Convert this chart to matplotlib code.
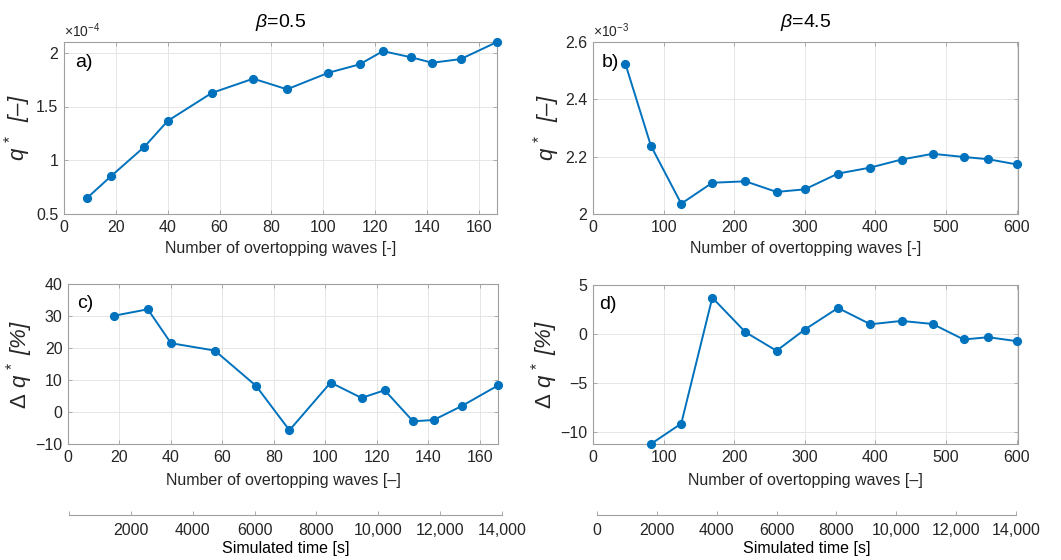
import matplotlib
matplotlib.use("Agg")
import matplotlib.pyplot as plt
from matplotlib.ticker import FuncFormatter

plt.rcParams['font.family'] = ['Liberation Sans', 'DejaVu Sans']
plt.rcParams['mathtext.fontset'] = 'custom'
plt.rcParams['mathtext.it'] = 'Liberation Sans:italic'
plt.rcParams['mathtext.rm'] = 'Liberation Sans'

# ---- data ----
waves_a = [9, 18, 31, 40, 57, 73, 86, 102, 114, 123, 134, 142, 153, 167]
q_a = [0.651, 0.849, 1.125, 1.366, 1.626, 1.759, 1.660, 1.814, 1.892, 2.015, 1.957, 1.907, 1.941, 2.10]  # x1e-4

waves_b = [46, 82, 125, 169, 216, 260, 300, 347, 393, 437, 481, 525, 560, 600]
q_b = [2.523, 2.238, 2.036, 2.109, 2.114, 2.077, 2.086, 2.141, 2.162, 2.190, 2.210, 2.199, 2.191, 2.173]  # x1e-3

waves_c = [18, 31, 40, 57, 73, 86, 102, 114, 123, 134, 142, 153, 167]
dq_c = [30.1, 32.1, 21.5, 19.2, 8.2, -5.7, 9.2, 4.4, 6.8, -2.9, -2.5, 1.9, 8.3]

waves_d = [82, 125, 169, 216, 260, 300, 347, 393, 437, 481, 525, 560, 600]
dq_d = [-11.2, -9.12, 3.71, 0.19, -1.70, 0.46, 2.66, 1.00, 1.34, 1.03, -0.55, -0.32, -0.72]

time_ticks_c = [0, 2000, 4000, 6000, 8000, 10000, 12000, 14000]
time_labels_c = ['', '2000', '4000', '6000', '8000', '10,000', '12,000', '14,000']
time_ticks_d = [0, 2000, 4000, 6000, 8000, 10000, 12000, 14000]
time_labels_d = ['0', '2000', '4000', '6000', '8000', '10,000', '12,000', '14,000']

BLUE = '#0072BD'
SPINE = '#a0a0a0'
TXT = '#262626'
W, H = 1061, 560

fig = plt.figure(figsize=(W / 100, H / 100), dpi=100)


def box(l, t, r, b):
    return [l / W, 1 - b / H, (r - l) / W, (b - t) / H]


def style(ax):
    for s in ax.spines.values():
        s.set_color(SPINE)
        s.set_linewidth(0.8)
    ax.tick_params(direction='in', length=3, width=0.6, color=SPINE,
                   labelsize=11.5, labelcolor=TXT, top=True, right=True, pad=4)
    ax.grid(True, color='#e6e6e6', linewidth=0.7)
    ax.set_axisbelow(True)


def plot(ax, x, y):
    ax.plot(x, y, '-o', color=BLUE, lw=1.4, ms=5.6, clip_on=False, zorder=3)


ax_a = fig.add_axes(box(64, 42, 497, 214))
ax_b = fig.add_axes(box(593, 42, 1018, 214))
ax_c = fig.add_axes(box(68, 284, 498, 444))
ax_d = fig.add_axes(box(593, 285, 1018, 444))

for ax in (ax_a, ax_b, ax_c, ax_d):
    style(ax)

QLAB = r'$q^{\,*}$  [–]'
DLAB = r'$\Delta\ q^{\,*}$ [%]'

plot(ax_a, waves_a, q_a)
ax_a.set_xlim(0, 167)
ax_a.set_ylim(0.5, 2.1)
ax_a.set_xticks(range(0, 161, 20))
ax_a.set_yticks([0.5, 1, 1.5, 2])
ax_a.yaxis.set_major_formatter(FuncFormatter(lambda v, p: f'{v:g}'))
ax_a.set_xlabel('Number of overtopping waves [-]', fontsize=11.5, color=TXT, labelpad=5)
ax_a.set_ylabel(QLAB, fontsize=16, color=TXT, style='italic', labelpad=2)
ax_a.set_title(r'$\beta$=0.5', fontsize=14, color='black', pad=11)
ax_a.text(0.0, 1.01, r'$\times10^{-4}$', transform=ax_a.transAxes, fontsize=10,
          color=TXT, ha='left', va='bottom')
ax_a.text(0.025, 0.93, 'a)', transform=ax_a.transAxes, fontsize=14, va='top')

plot(ax_b, waves_b, q_b)
ax_b.set_xlim(0, 602)
ax_b.set_ylim(2.0, 2.6)
ax_b.set_xticks(range(0, 601, 100))
ax_b.set_yticks([2, 2.2, 2.4, 2.6])
ax_b.yaxis.set_major_formatter(FuncFormatter(lambda v, p: f'{v:g}'))
ax_b.set_xlabel('Number of overtopping waves [-]', fontsize=11.5, color=TXT, labelpad=5)
ax_b.set_ylabel(QLAB, fontsize=16, color=TXT, style='italic', labelpad=2)
ax_b.set_title(r'$\beta$=4.5', fontsize=14, color='black', pad=11)
ax_b.text(0.0, 1.01, r'$\times10^{-3}$', transform=ax_b.transAxes, fontsize=10,
          color=TXT, ha='left', va='bottom')
ax_b.text(0.02, 0.93, 'b)', transform=ax_b.transAxes, fontsize=14, va='top')

plot(ax_c, waves_c, dq_c)
ax_c.set_xlim(0, 167)
ax_c.set_ylim(-10, 40)
ax_c.set_xticks(range(0, 161, 20))
ax_c.set_yticks(range(-10, 41, 10))
ax_c.set_xlabel('Number of overtopping waves [–]', fontsize=11.5, color=TXT, labelpad=6)
ax_c.set_ylabel(DLAB, fontsize=16, color=TXT, style='italic', labelpad=0)
ax_c.text(0.022, 0.93, 'c)', transform=ax_c.transAxes, fontsize=14, va='top')

plot(ax_d, waves_d, dq_d)
ax_d.set_xlim(0, 602)
ax_d.set_ylim(-11.2, 5)
ax_d.set_xticks(range(0, 601, 100))
ax_d.set_yticks([-10, -5, 0, 5])
ax_d.set_xlabel('Number of overtopping waves [–]', fontsize=11.5, color=TXT, labelpad=6)
ax_d.set_ylabel(DLAB, fontsize=16, color=TXT, style='italic', labelpad=0)
ax_d.text(0.015, 0.93, 'd)', transform=ax_d.transAxes, fontsize=14, va='top')


def time_axis(l, r, ticks, labels):
    t = fig.add_axes(box(l, 505, r, 515))
    t.patch.set_visible(False)
    for k in ('top', 'left', 'right'):
        t.spines[k].set_visible(False)
    t.spines['bottom'].set_color(SPINE)
    t.spines['bottom'].set_linewidth(0.8)
    t.set_yticks([])
    t.set_xlim(0, 14000)
    t.set_xticks(ticks)
    t.set_xticklabels(labels)
    t.tick_params(axis='x', direction='in', length=3, width=0.6, color=SPINE,
                  labelsize=11.5, labelcolor=TXT, pad=6)
    t.set_xlabel('Simulated time [s]', fontsize=11.5, color='black', labelpad=2)
    return t


time_axis(69, 502, time_ticks_c, time_labels_c)
time_axis(597, 1016, time_ticks_d, time_labels_d)

fig.savefig('out.png', dpi=100, facecolor='white')
